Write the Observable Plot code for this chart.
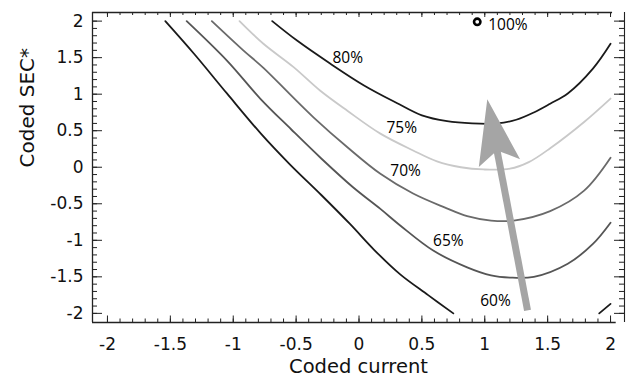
<!DOCTYPE html>
<html><head><meta charset="utf-8">
<script src="https://cdn.jsdelivr.net/npm/d3@7"></script>
<script src="https://cdn.jsdelivr.net/npm/@observablehq/plot@0.6"></script>
<style>html,body{margin:0;padding:0;background:#fff}</style>
</head><body><div id="chart"></div>
<script>
// ---- data ----
const levels = ["80%", "75%", "70%", "65%", "60%"];
const levelColors = ["#1a1a1a", "#c9c9c9", "#6a6a6a", "#555555", "#1a1a1a"];
const curve80 = [[-0.69,2.0],[-0.49,1.73],[-0.23,1.42],[0.04,1.12],[0.30,0.88],[0.50,0.71],[0.70,0.63],[0.90,0.60],[1.10,0.60],[1.25,0.65],[1.39,0.75],[1.52,0.87],[1.66,1.01],[1.86,1.35],[2.0,1.69]];
const curve75 = [[-0.95,2.0],[-0.76,1.69],[-0.52,1.37],[-0.31,1.05],[-0.09,0.77],[0.17,0.46],[0.43,0.23],[0.62,0.08],[0.81,0.0],[0.99,-0.03],[1.20,-0.02],[1.35,0.07],[1.52,0.26],[1.79,0.62],[2.0,0.94]];
const curve70 = [[-1.17,2.0],[-0.92,1.60],[-0.76,1.36],[-0.55,1.0],[-0.36,0.68],[-0.09,0.27],[0.17,-0.09],[0.43,-0.36],[0.68,-0.55],[0.86,-0.67],[1.05,-0.73],[1.23,-0.73],[1.52,-0.60],[1.79,-0.32],[2.0,0.13]];
const curve65 = [[-1.37,2.0],[-1.05,1.46],[-0.78,0.93],[-0.54,0.52],[-0.30,0.12],[-0.05,-0.27],[0.17,-0.57],[0.33,-0.80],[0.59,-1.14],[0.86,-1.37],[1.05,-1.48],[1.20,-1.51],[1.39,-1.50],[1.66,-1.32],[1.86,-1.05],[2.0,-0.76]];
const curve60 = [[-1.54,2.0],[-1.31,1.55],[-1.05,1.01],[-0.78,0.46],[-0.55,0.04],[-0.30,-0.38],[-0.07,-0.78],[0.12,-1.13],[0.33,-1.47],[0.55,-1.75],[0.75,-2.0]];
const curve60b = [[1.91,-2.0],[2.0,-1.87]];
const labelX = [-0.09, 0.34, 0.37, 0.71, 1.085];
const labelY = [1.49, 0.54, -0.05, -1.015, -1.835];
const optimumX = [0.94];
const optimumY = [1.99];
const optimumLabel = ["100%"];
const arrowX1 = [1.34], arrowY1 = [-1.96], arrowX2 = [1.02], arrowY2 = [0.93];
const xTickValues = [-2, -1.5, -1, -0.5, 0, 0.5, 1, 1.5, 2];
const yTickValues = [-2, -1.5, -1, -0.5, 0, 0.5, 1, 1.5, 2];
const minorTickValues = d3.range(-20, 21).map(i => i / 10);

// ---- layout ----
const W = 627, H = 378, mL = 92, mR = 3, mT = 12, mB = 56;
const plotW = W - mL - mR, plotH = H - mT - mB;
const xDomain = [-2.119, 2.111], yDomain = [-2.125, 2.118];
const xs = d3.scaleLinear(xDomain, [mL, W - mR]);
const ys = d3.scaleLinear(yDomain, [H - mB, mT]);

// ---- build tables ----
const curves = [curve80, curve75, curve70, curve65, curve60];
const lineData = [];
curves.forEach((c, i) => c.forEach(([x, y]) => lineData.push({x, y, level: levels[i], seg: levels[i]})));
curve60b.forEach(([x, y]) => lineData.push({x, y, level: "60%", seg: "60%b"}));
const labels = levels.map((l, i) => ({x: labelX[i], y: labelY[i], text: l}));
const optimum = optimumX.map((x, i) => ({x, y: optimumY[i], text: optimumLabel[i]}));
const arrows = arrowX1.map((x1, i) => {
  const dx = xs(arrowX2[i]) - xs(x1), dy = ys(arrowY2[i]) - ys(arrowY1[i]);
  return {x1, y1: arrowY1[i], x2: arrowX2[i], y2: arrowY2[i], angle: Math.atan2(dx, -dy) * 180 / Math.PI};
});
const stealth = {draw(ctx) { ctx.moveTo(0, 0); ctx.lineTo(21, 65); ctx.lineTo(0, 52); ctx.lineTo(-21, 65); ctx.closePath(); }};
const colorOf = Object.fromEntries(levels.map((l, i) => [l, levelColors[i]]));

const axisColor = "#222";
const chart = Plot.plot({
  width: W, height: H,
  marginLeft: mL, marginRight: mR, marginTop: mT, marginBottom: mB,
  x: {domain: xDomain},
  y: {domain: yDomain},
  style: {font: "17px 'DejaVu Sans'", color: "#111", background: "#fff"},
  marks: [
    // frame pieces
    Plot.ruleX([xDomain[0]], {stroke: axisColor, strokeWidth: 1.3}),
    Plot.ruleX([xDomain[1]], {stroke: axisColor, strokeWidth: 1.1}),
    Plot.ruleY([yDomain[1]], {x1: xDomain[0], x2: 2.016, stroke: axisColor, strokeWidth: 1.3}),
    Plot.ruleY([yDomain[0]], {x1: xDomain[0], x2: 2.045, stroke: axisColor, strokeWidth: 1.3}),
    // inward ticks
    Plot.tickX(minorTickValues, {x: d => d, insetTop: plotH - 3.5, stroke: axisColor}),
    Plot.tickX(xTickValues, {x: d => d, insetTop: plotH - 6.5, stroke: axisColor}),
    Plot.tickX(minorTickValues, {x: d => d, insetBottom: plotH - 3, stroke: axisColor}),
    Plot.tickX(xTickValues, {x: d => d, insetBottom: plotH - 5, stroke: axisColor}),
    Plot.tickY(minorTickValues, {y: d => d, insetRight: plotW - 5, stroke: axisColor}),
    Plot.tickY(yTickValues, {y: d => d, insetRight: plotW - 10, stroke: axisColor}),
    Plot.tickY(minorTickValues, {y: d => d, insetLeft: plotW - 5, stroke: axisColor}),
    Plot.tickY(yTickValues, {y: d => d, insetLeft: plotW - 10, stroke: axisColor}),
    // tick labels
    Plot.axisX(xTickValues, {tickSize: 0, tickPadding: 15, tickFormat: d => String(d), label: null, fontSize: 17}),
    Plot.axisY(yTickValues, {tickSize: 0, tickPadding: 9, tickFormat: d => String(d), label: null, fontSize: 17}),
    // axis titles
    Plot.text(["Coded current"], {text: d => d, frameAnchor: "bottom", dy: 37, lineAnchor: "top", fontSize: 19.5}),
    Plot.text(["Coded SEC*"], {text: d => d, frameAnchor: "left", rotate: -90, dx: -65, fontSize: 20}),
    // contour lines
    Plot.line(lineData, {x: "x", y: "y", z: "seg", stroke: d => colorOf[d.level], strokeWidth: 1.8, curve: "catmull-rom"}),
    // contour labels
    Plot.text(labels, {x: "x", y: "y", text: "text", fontFamily: "Open Sans", fontSize: 15.5, fill: "#000"}),
    // arrow
    Plot.arrow(arrows, {x1: "x1", y1: "y1", x2: "x2", y2: "y2", headLength: 0, insetEnd: 40, stroke: "#a5a5a5", strokeWidth: 7, strokeLinecap: "butt"}),
    Plot.dot(arrows, {x: "x2", y: "y2", symbol: stealth, rotate: "angle", fill: "#a5a5a5", stroke: "none"}),
    // optimum point
    Plot.dot(optimum, {x: "x", y: "y", r: 3.2, fill: "#fff", stroke: "#000", strokeWidth: 2.6}),
    Plot.text(optimum, {x: "x", y: "y", text: "text", dx: 11, dy: 3, textAnchor: "start", fontFamily: "Open Sans", fontSize: 15.5, fill: "#000"})
  ]
});
document.getElementById("chart").appendChild(chart);
</script>
</body></html>
